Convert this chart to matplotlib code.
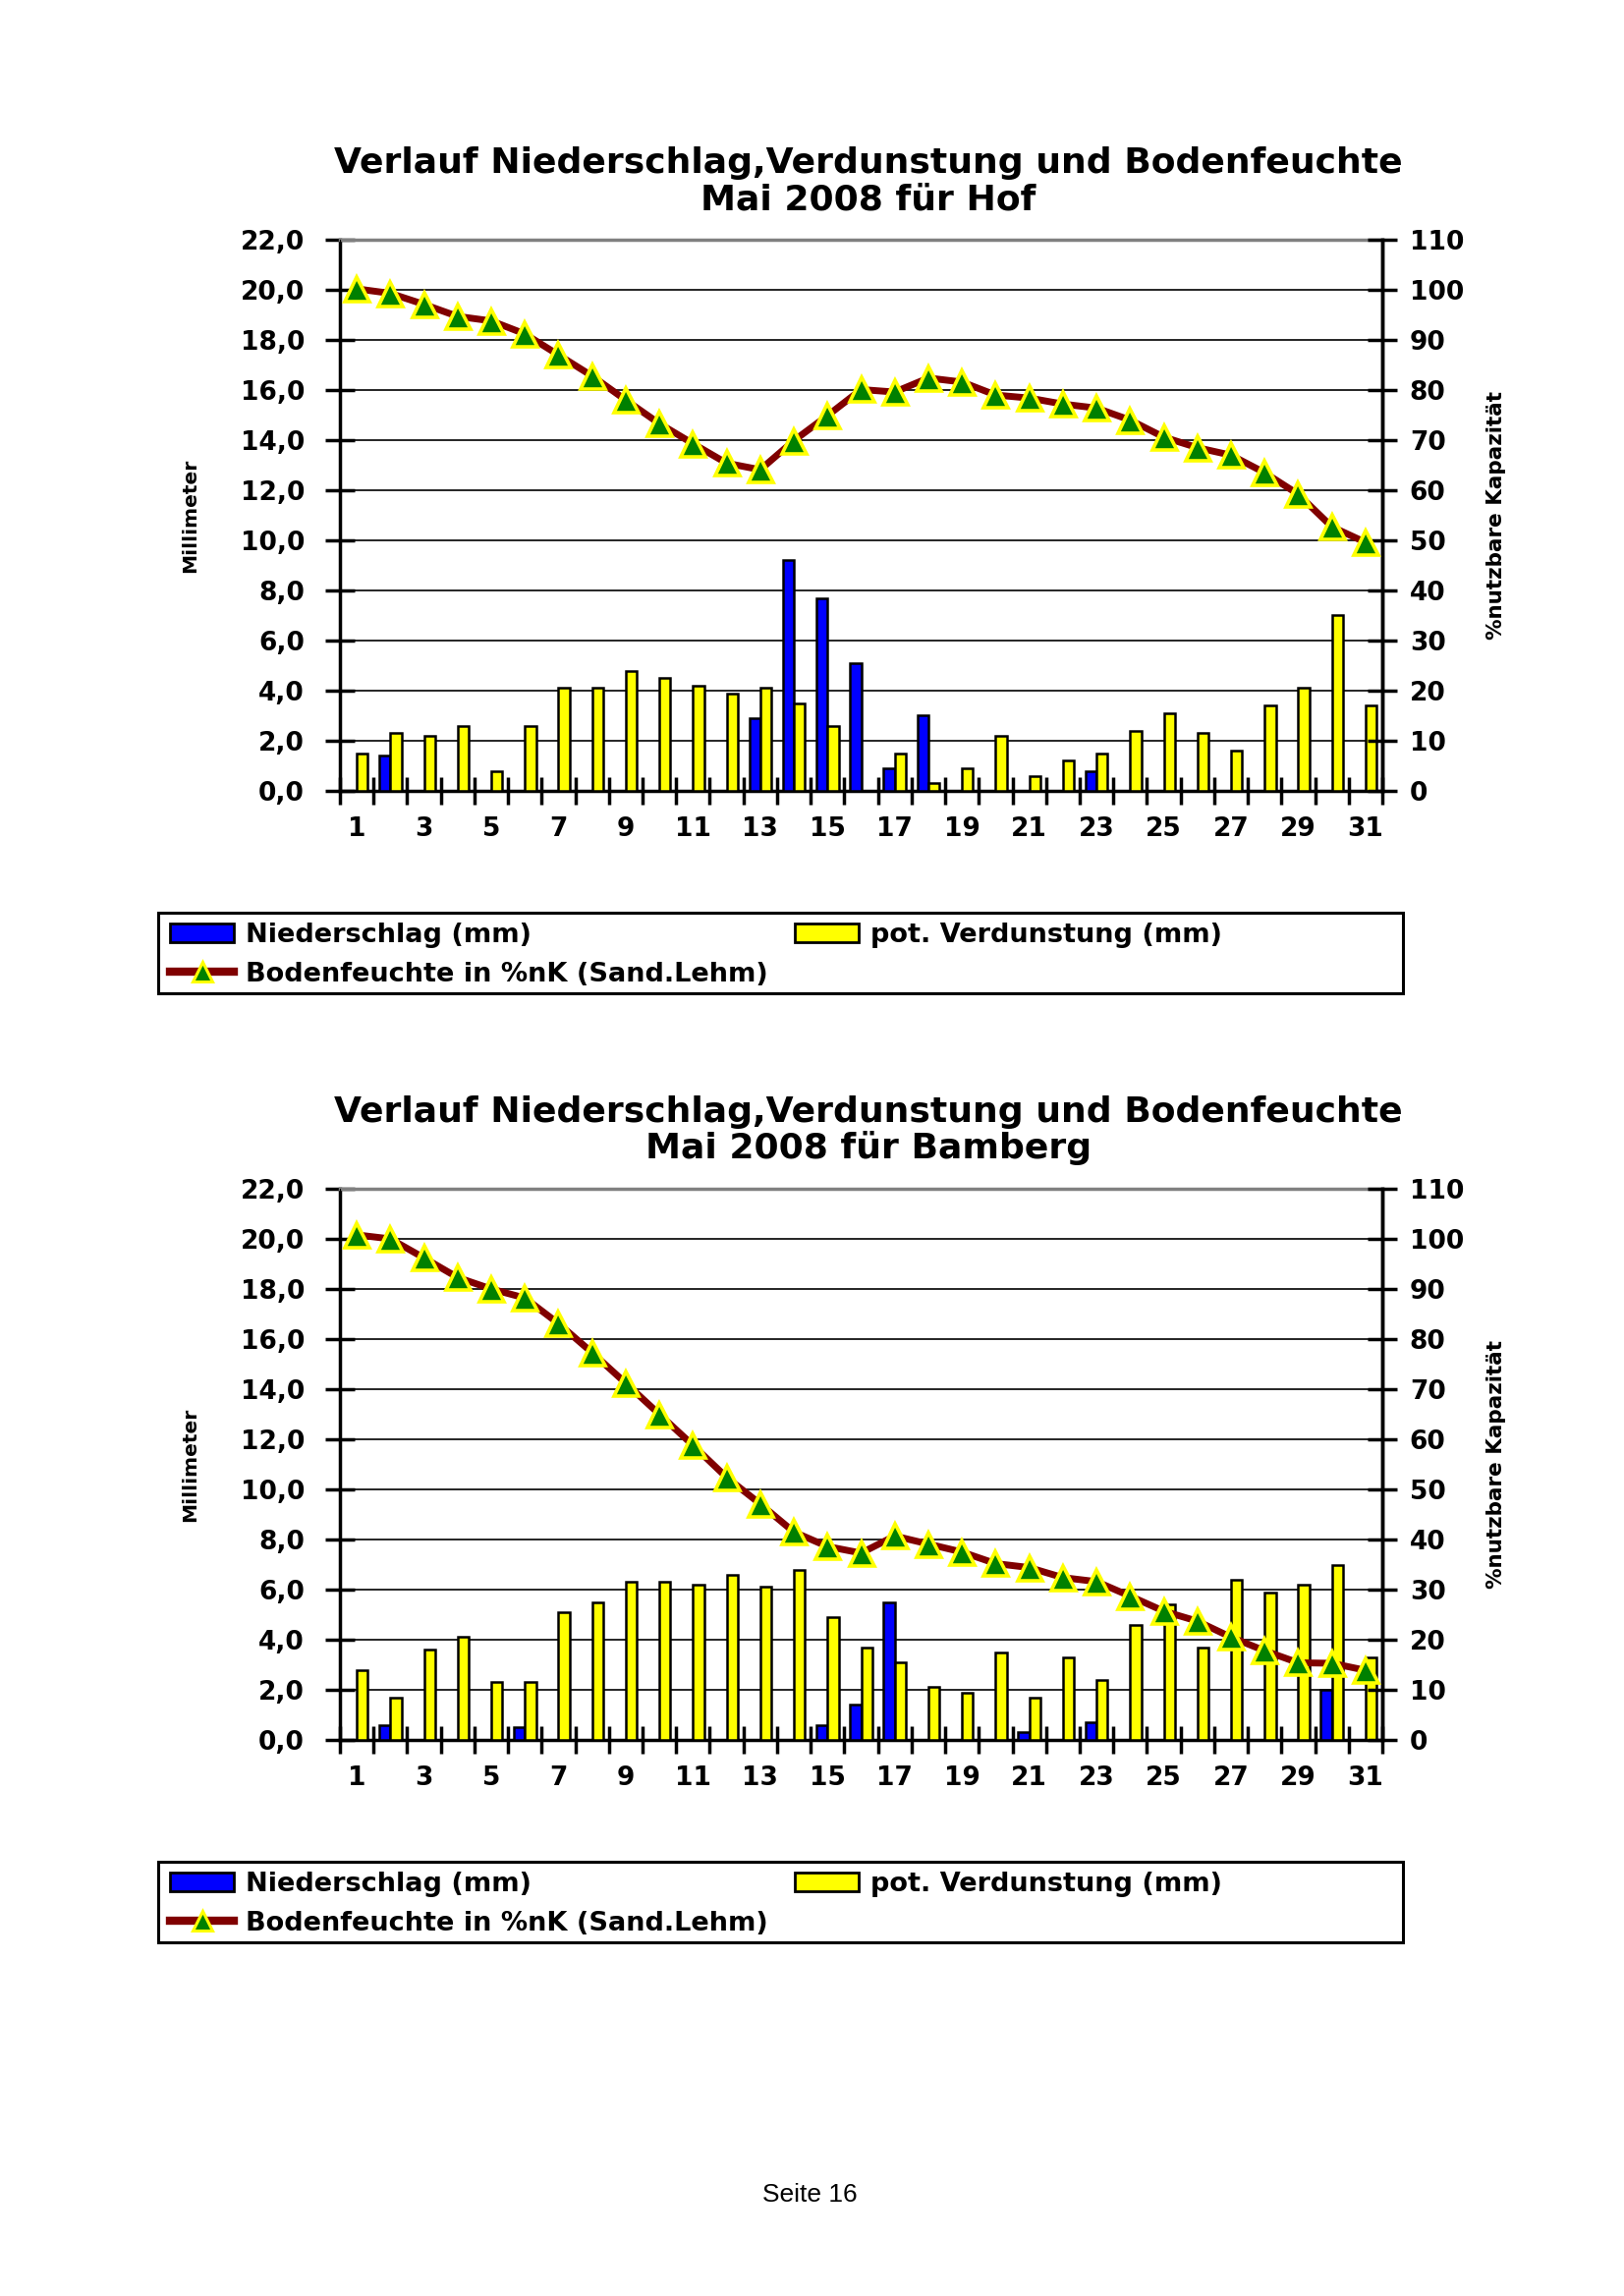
import numpy as np
import matplotlib
matplotlib.use('Agg')
import matplotlib.pyplot as plt
from matplotlib.patches import Patch, Rectangle
from matplotlib.lines import Line2D
from matplotlib.ticker import FuncFormatter

plt.rcParams['font.family'] = 'DejaVu Sans'

tage = np.arange(1, 32)
tag_labels = [str(t) for t in range(1, 32, 2)]

hof_nieder = [0, 1.4, 0, 0, 0, 0, 0, 0, 0, 0, 0, 0, 2.9, 9.2, 7.7, 5.1,
              0.9, 3.0, 0, 0, 0, 0, 0.8, 0, 0, 0, 0, 0, 0, 0, 0]
hof_verd = [1.5, 2.3, 2.2, 2.6, 0.8, 2.6, 4.1, 4.1, 4.8, 4.5, 4.2, 3.9, 4.1, 3.5, 2.6, 0.0,
            1.5, 0.3, 0.9, 2.2, 0.6, 1.2, 1.5, 2.4, 3.1, 2.3, 1.6, 3.4, 4.1, 7.0, 3.4]
hof_boden = [100.2, 99.3, 97.1, 94.7, 93.8, 91.2, 87.0, 82.8, 78.0, 73.3, 69.3, 65.4, 64.1,
             69.9, 74.9, 80.1, 79.6, 82.4, 81.6, 79.0, 78.4, 77.2, 76.4, 74.0, 70.6, 68.5,
             67.0, 63.5, 59.2, 52.7, 49.6]

bam_nieder = [0, 0.6, 0, 0, 0, 0.5, 0, 0, 0, 0, 0, 0, 0, 0, 0.6, 1.4,
              5.5, 0, 0, 0, 0.3, 0, 0.7, 0, 0, 0, 0, 0, 0, 2.0, 0]
bam_verd = [2.8, 1.7, 3.6, 4.1, 2.3, 2.3, 5.1, 5.5, 6.3, 6.3, 6.2, 6.6, 6.1, 6.8, 4.9, 3.7,
            3.1, 2.1, 1.9, 3.5, 1.7, 3.3, 2.4, 4.6, 5.4, 3.7, 6.4, 5.9, 6.2, 7.0, 3.3]
bam_boden = [100.8, 100.0, 96.2, 92.3, 90.0, 88.2, 83.1, 77.3, 71.2, 65.0, 58.8, 52.4, 47.1,
             41.5, 38.6, 37.3, 40.7, 39.1, 37.5, 35.2, 34.4, 32.4, 31.6, 28.7, 25.7, 23.7,
             20.5, 17.8, 15.4, 15.3, 13.9]

titel = 'Verlauf Niederschlag,Verdunstung und Bodenfeuchte'
orte = ['Hof', 'Bamberg']

W, H = 1653, 2337
fig = plt.figure(figsize=(W / 100, H / 100), dpi=100)
fs_tick = 19
fs_leg = 19.5


def diagramm(y_top, y_bot, ort, nieder, verd, boden):
    ax = fig.add_axes([346 / W, 1 - y_bot / H, (1407 - 346) / W, (y_bot - y_top) / H])
    w = 0.33
    ax.bar(tage - w / 2, nieder, w, color='#0000ff', edgecolor='black', linewidth=1.8, zorder=3)
    ax.bar(tage + w / 2, verd, w, color='#ffff00', edgecolor='black', linewidth=1.8, zorder=3)
    ax.set_xlim(0.5, 31.5)
    ax.set_ylim(0, 22)
    ax.set_yticks(np.arange(0, 23, 2))
    ax.yaxis.set_major_formatter(FuncFormatter(lambda v, p: ('%.1f' % v).replace('.', ',')))
    ax.set_xticks(range(1, 32, 2))
    ax.set_xticklabels(tag_labels)
    ax.set_xticks(np.arange(0.5, 32, 1), minor=True)
    ax.tick_params(axis='x', which='major', length=0, pad=19, labelsize=fs_tick)
    ax.tick_params(axis='x', which='minor', direction='inout', length=20, width=2.5)
    ax.tick_params(axis='y', direction='inout', length=22, width=2.5, pad=15, labelsize=fs_tick)
    for lab in ax.get_xticklabels() + ax.get_yticklabels():
        lab.set_fontweight('bold')
    ax.grid(axis='y', color='black', linewidth=1.2)
    ax.set_axisbelow(True)
    ax.spines['top'].set_color('#808080')
    ax.spines['top'].set_linewidth(2.5)
    for s in ['left', 'bottom', 'right']:
        ax.spines[s].set_linewidth(2.5)

    ax2 = ax.twinx()
    ax2.plot(tage, boden, color='#800000', linewidth=5, marker='^', markersize=18,
             markerfacecolor='#008000', markeredgecolor='#ffff00', markeredgewidth=2.6,
             zorder=5, clip_on=False)
    ax2.set_ylim(0, 110)
    ax2.set_yticks(np.arange(0, 111, 10))
    ax2.tick_params(axis='y', direction='inout', length=22, width=2.5, pad=9, labelsize=fs_tick)
    for lab in ax2.get_yticklabels():
        lab.set_fontweight('bold')
    ax2.spines['top'].set_visible(False)
    ax2.spines['right'].set_linewidth(2.5)

    fig.text(884 / W, 1 - (y_top - 78) / H, titel, ha='center', va='center',
             fontsize=26, fontweight='bold')
    fig.text(884 / W, 1 - (y_top - 41) / H, 'Mai 2008 für ' + ort, ha='center', va='center',
             fontsize=26, fontweight='bold')
    mitte = (y_top + y_bot) / 2
    fig.text(194 / W, 1 - mitte / H, 'Millimeter', rotation=90, ha='center', va='center',
             fontsize=14.5, fontweight='bold')
    fig.text(1523 / W, 1 - mitte / H, '%nutzbare Kapazität', rotation=90, ha='center',
             va='center', fontsize=15.5, fontweight='bold')

    # Legende: Rahmen separat, zwei Spalten als eigene Legenden
    lg_top = y_bot + 124
    lg_bot = y_bot + 206
    fig.patches.append(Rectangle((161 / W, 1 - lg_bot / H), (1428 - 161) / W,
                                 (lg_bot - lg_top) / H, transform=fig.transFigure,
                                 facecolor='none', edgecolor='black', linewidth=2.2))
    h_nieder = Patch(facecolor='#0000ff', edgecolor='black', linewidth=2)
    h_verd = Patch(facecolor='#ffff00', edgecolor='black', linewidth=2)
    h_boden = Line2D([0], [0], color='#800000', linewidth=6, marker='^', markersize=15,
                     markerfacecolor='#008000', markeredgecolor='#ffff00', markeredgewidth=2.2)
    opts = dict(loc='upper left', frameon=False, handlelength=2.4, handletextpad=0.45,
                labelspacing=0.5, borderaxespad=0, borderpad=0,
                prop={'weight': 'bold', 'size': fs_leg})
    fig.legend([h_nieder, h_boden], ['Niederschlag (mm)', 'Bodenfeuchte in %nK (Sand.Lehm)'],
               bbox_to_anchor=(173 / W, 1 - (lg_top + 10) / H), **opts)
    fig.legend([h_verd], ['pot. Verdunstung (mm)'],
               bbox_to_anchor=(809 / W, 1 - (lg_top + 10) / H), **opts)


diagramm(244, 805, orte[0], hof_nieder, hof_verd, hof_boden)
diagramm(1210, 1771, orte[1], bam_nieder, bam_verd, bam_boden)

fig.text(824 / W, 1 - 2234 / H, 'Seite 16', ha='center', va='center', fontsize=19,
         family='Liberation Sans')

fig.savefig('out.png', dpi=100, facecolor='white')
